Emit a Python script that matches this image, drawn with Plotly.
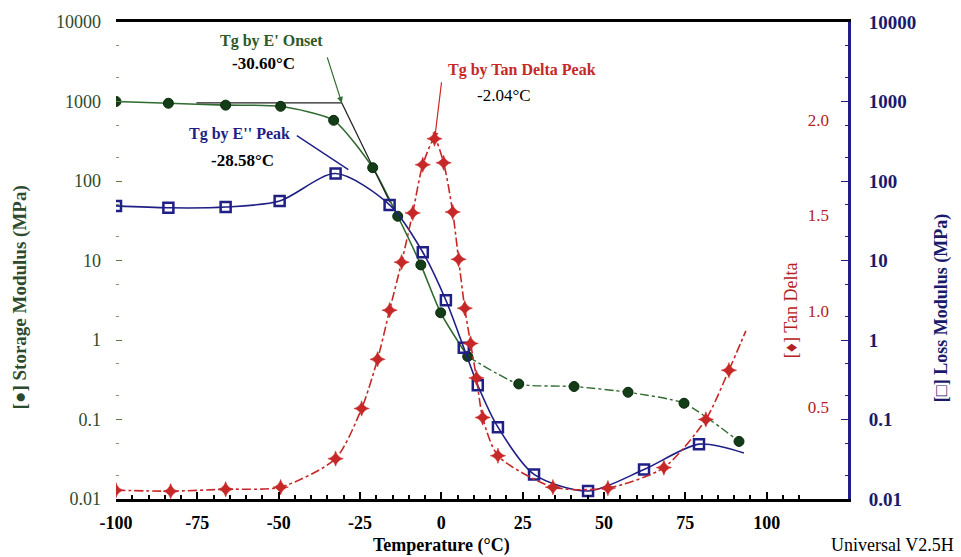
import plotly.graph_objects as go
import math

# ---------------- data ----------------
T_storage = [-100, -83.9, -66.3, -49.4, -33.1, -21.1, -13.4, -6.3, -0.2, 8.1, 23.8, 40.8, 57.4, 74.6, 91.5]
storage = [1000, 950, 900, 870, 580, 147, 36, 8.8, 2.2, 0.62, 0.28, 0.26, 0.22, 0.16, 0.053]

T_loss = [-100, -83.9, -66.3, -49.7, -32.5, -15.9, -5.7, 1.4, 6.9, 11.2, 17.4, 28.5, 45.1, 62.3, 79.2, 93.0]
loss = [48.6, 46, 47, 56, 124, 50, 12.7, 3.16, 0.80, 0.27, 0.080, 0.0204, 0.0126, 0.0235, 0.049, 0.038]

T_tan = [-100, -83.2, -66.3, -49.4, -32.5, -24.5, -19.6, -15.9, -12.2, -8.8, -5.7, -2.1, 0.7,
         3.5, 5.3, 7.2, 9.0, 10.8, 12.7, 17.4, 34.3, 51.2, 68.4, 81.3, 88.4, 93.6]
tan_delta = [0.063, 0.058, 0.068, 0.079, 0.228, 0.49, 0.747, 1.004, 1.255, 1.512, 1.764, 1.90, 1.774,
             1.517, 1.27, 1.014, 0.83, 0.65, 0.443, 0.243, 0.079, 0.074, 0.181, 0.433, 0.69, 0.896]

# E' onset construction (tangent) lines
onset_T = [-75.3, -30.6, -15.8]
onset_E = [960, 960, 54]

tg_onset, tg_loss_peak, tg_tan_peak = -30.60, -28.58, -2.04

x_ticks = [-100, -75, -50, -25, 0, 25, 50, 75, 100, 125]
x_tick_text = ["-100", "-75", "-50", "-25", "0", "25", "50", "75", "100", "125"]
log_ticks = [0.01, 0.1, 1, 10, 100, 1000, 10000]
left_tick_text = ["0.01", "0.1", "1", "10", "100", "1000", "10000"]
right_tick_text = ["0.01", "0.1", "1", "10", "100", "1000", "10000"]
tan_ticks = [0.5, 1.0, 1.5, 2.0]

# ---------------- styling ----------------
GREEN_LINE = "#2f6b2f"
GREEN_MARK = "#123d17"
NAVY = "#1f1f86"
RED = "#c62828"
SERIF = "Liberation Serif"

fig = go.Figure()

split = T_storage.index(8.1) + 1
fig.add_trace(go.Scatter(x=T_storage[:split], y=storage[:split], mode="lines",
                         line=dict(color=GREEN_LINE, width=1.6, shape="spline", smoothing=0.6),
                         yaxis="y", hoverinfo="skip"))
fig.add_trace(go.Scatter(x=T_storage[split - 1:], y=storage[split - 1:], mode="lines",
                         line=dict(color=GREEN_LINE, width=1.4, dash="dashdot", shape="spline", smoothing=0.6),
                         yaxis="y", hoverinfo="skip"))
fig.add_trace(go.Scatter(x=onset_T, y=onset_E, mode="lines",
                         line=dict(color="#222222", width=1.2), yaxis="y", hoverinfo="skip"))
fig.add_trace(go.Scatter(x=T_storage, y=storage, mode="markers",
                         marker=dict(symbol="circle", size=10, color=GREEN_MARK,
                                     line=dict(color="#0a2a0c", width=1)),
                         yaxis="y", name="Storage Modulus"))

# loss modulus
fig.add_trace(go.Scatter(x=T_loss, y=loss, mode="lines",
                         line=dict(color=NAVY, width=1.6, shape="spline", smoothing=0.8),
                         yaxis="y2", hoverinfo="skip"))
fig.add_trace(go.Scatter(x=T_loss[:-1], y=loss[:-1], mode="markers",
                         marker=dict(symbol="square-open", size=10, color=NAVY, line=dict(width=2.5)),
                         yaxis="y2", name="Loss Modulus"))

# tan delta
fig.add_trace(go.Scatter(x=T_tan, y=tan_delta, mode="lines",
                         line=dict(color=RED, width=1.6, dash="dashdot", shape="spline", smoothing=0.7),
                         yaxis="y3", hoverinfo="skip"))
fig.add_trace(go.Scatter(x=T_tan[:-1], y=tan_delta[:-1], mode="markers",
                         marker=dict(symbol="star-diamond", size=11, color=RED,
                                     line=dict(color=RED, width=0.5)),
                         yaxis="y3", name="Tan Delta"))

# ---------------- axes ----------------
fig.update_layout(
    width=961, height=557,
    margin=dict(l=116, r=113, t=14, b=58, pad=0),
    paper_bgcolor="white", plot_bgcolor="white",
    showlegend=False,
    font=dict(family=SERIF, color="black"),
    xaxis=dict(range=[-100, 125], tickvals=x_ticks, ticktext=x_tick_text, ticks="inside", ticklen=7,
               tickwidth=1.5, tickcolor="black", showline=True, linecolor="black", linewidth=2.5,
               mirror=True, showgrid=False, zeroline=False,
               minor=dict(dtick=5, tick0=-100, ticks="inside", ticklen=4, tickcolor="black"),
               tickfont=dict(family=SERIF, size=18, color="black", weight="bold"),
               ticklabelstandoff=6),
    yaxis=dict(type="log", range=[-2, 4], tickvals=log_ticks, ticktext=left_tick_text,
               ticks="inside", ticklen=6, tickcolor="#5d7a4d", showline=False, showgrid=False,
               zeroline=False,
               minor=dict(ticks="inside", ticklen=3, tickcolor="#7d9a6d", showgrid=False),
               tickfont=dict(family=SERIF, size=18, color="#2e4a2e"), ticklabelstandoff=14),
    yaxis2=dict(type="log", range=[-2, 4], overlaying="y", side="right", anchor="x",
                tickvals=log_ticks, ticktext=right_tick_text, ticks="inside", ticklen=7,
                tickcolor=NAVY, showline=True, linecolor=NAVY, linewidth=3, showgrid=False,
                zeroline=False,
                minor=dict(ticks="inside", ticklen=3, tickcolor=NAVY, showgrid=False),
                tickfont=dict(family=SERIF, size=19, color="#1a1a6b", weight="bold"),
                ticklabelstandoff=14),
    yaxis3=dict(range=[0.017, 2.51], overlaying="y", side="right", anchor="x",
                tickvals=tan_ticks, tickformat=".1f", ticks="", showline=False, showgrid=False,
                zeroline=False, ticklabelposition="inside",
                tickfont=dict(family=SERIF, size=17, color="#b22222"), ticklabelstandoff=16),
)


def px(xp):
    return (xp - 116) / 732.0


def py(yp):
    return (499 - yp) / 485.0


def label(text, xp, yp, size, color, bold=True, angle=0, xanchor="center"):
    return dict(text=text, xref="paper", yref="paper", x=px(xp), y=py(yp), textangle=angle,
                xanchor=xanchor, yanchor="middle", showarrow=False,
                font=dict(family=SERIF, size=size, color=color, weight="bold" if bold else "normal"))


ann = [
    label("[●] Storage Modulus (MPa)", 20, 294, 19, "#2e4a2e", angle=-90),
    label("[□] Loss Modulus (MPa)", 941, 305, 18, "#1a1a6b", angle=-90),
    label("[♦] Tan Delta", 791, 307, 18, "#b22222", bold=False, angle=-90),
    label("Temperature (°C)", 441, 546, 18, "black"),
    label("Universal V2.5H", 956, 546, 18, "black", bold=False, xanchor="right"),
    label("Tg by E' Onset", 271, 33, 16, "#2d5a27"),
    label(f"{tg_onset:.2f}°C", 263, 56, 17, "black"),
    label("Tg by E'' Peak", 239, 128, 16, NAVY),
    label(f"{tg_loss_peak:.2f}°C", 242, 155, 17, "black"),
    label("Tg by Tan Delta Peak", 522, 63, 16, RED),
    label(f"{tg_tan_peak:.2f}°C", 504, 89, 17, "black", bold=False),
]

# pointer arrows
ann.append(dict(x=tg_onset, y=math.log10(onset_E[1]), xref="x", yref="y", text="", showarrow=True,
                ax=-15, ay=-47, arrowhead=2, arrowsize=1, arrowwidth=1.2, arrowcolor=GREEN_LINE))
ann.append(dict(x=tg_loss_peak, y=math.log10(max(loss)) + 0.05, xref="x", yref="y2", text="", showarrow=True,
                ax=-53, ay=-35, arrowhead=0, arrowwidth=1.4, arrowcolor=NAVY))
ann.append(dict(x=tg_tan_peak, y=max(tan_delta), xref="x", yref="y3", text="", showarrow=True,
                ax=7, ay=-58, arrowhead=2, arrowsize=1, arrowwidth=1.2, arrowcolor=RED))

fig.update_layout(annotations=ann)

fig.write_html("out.html")
